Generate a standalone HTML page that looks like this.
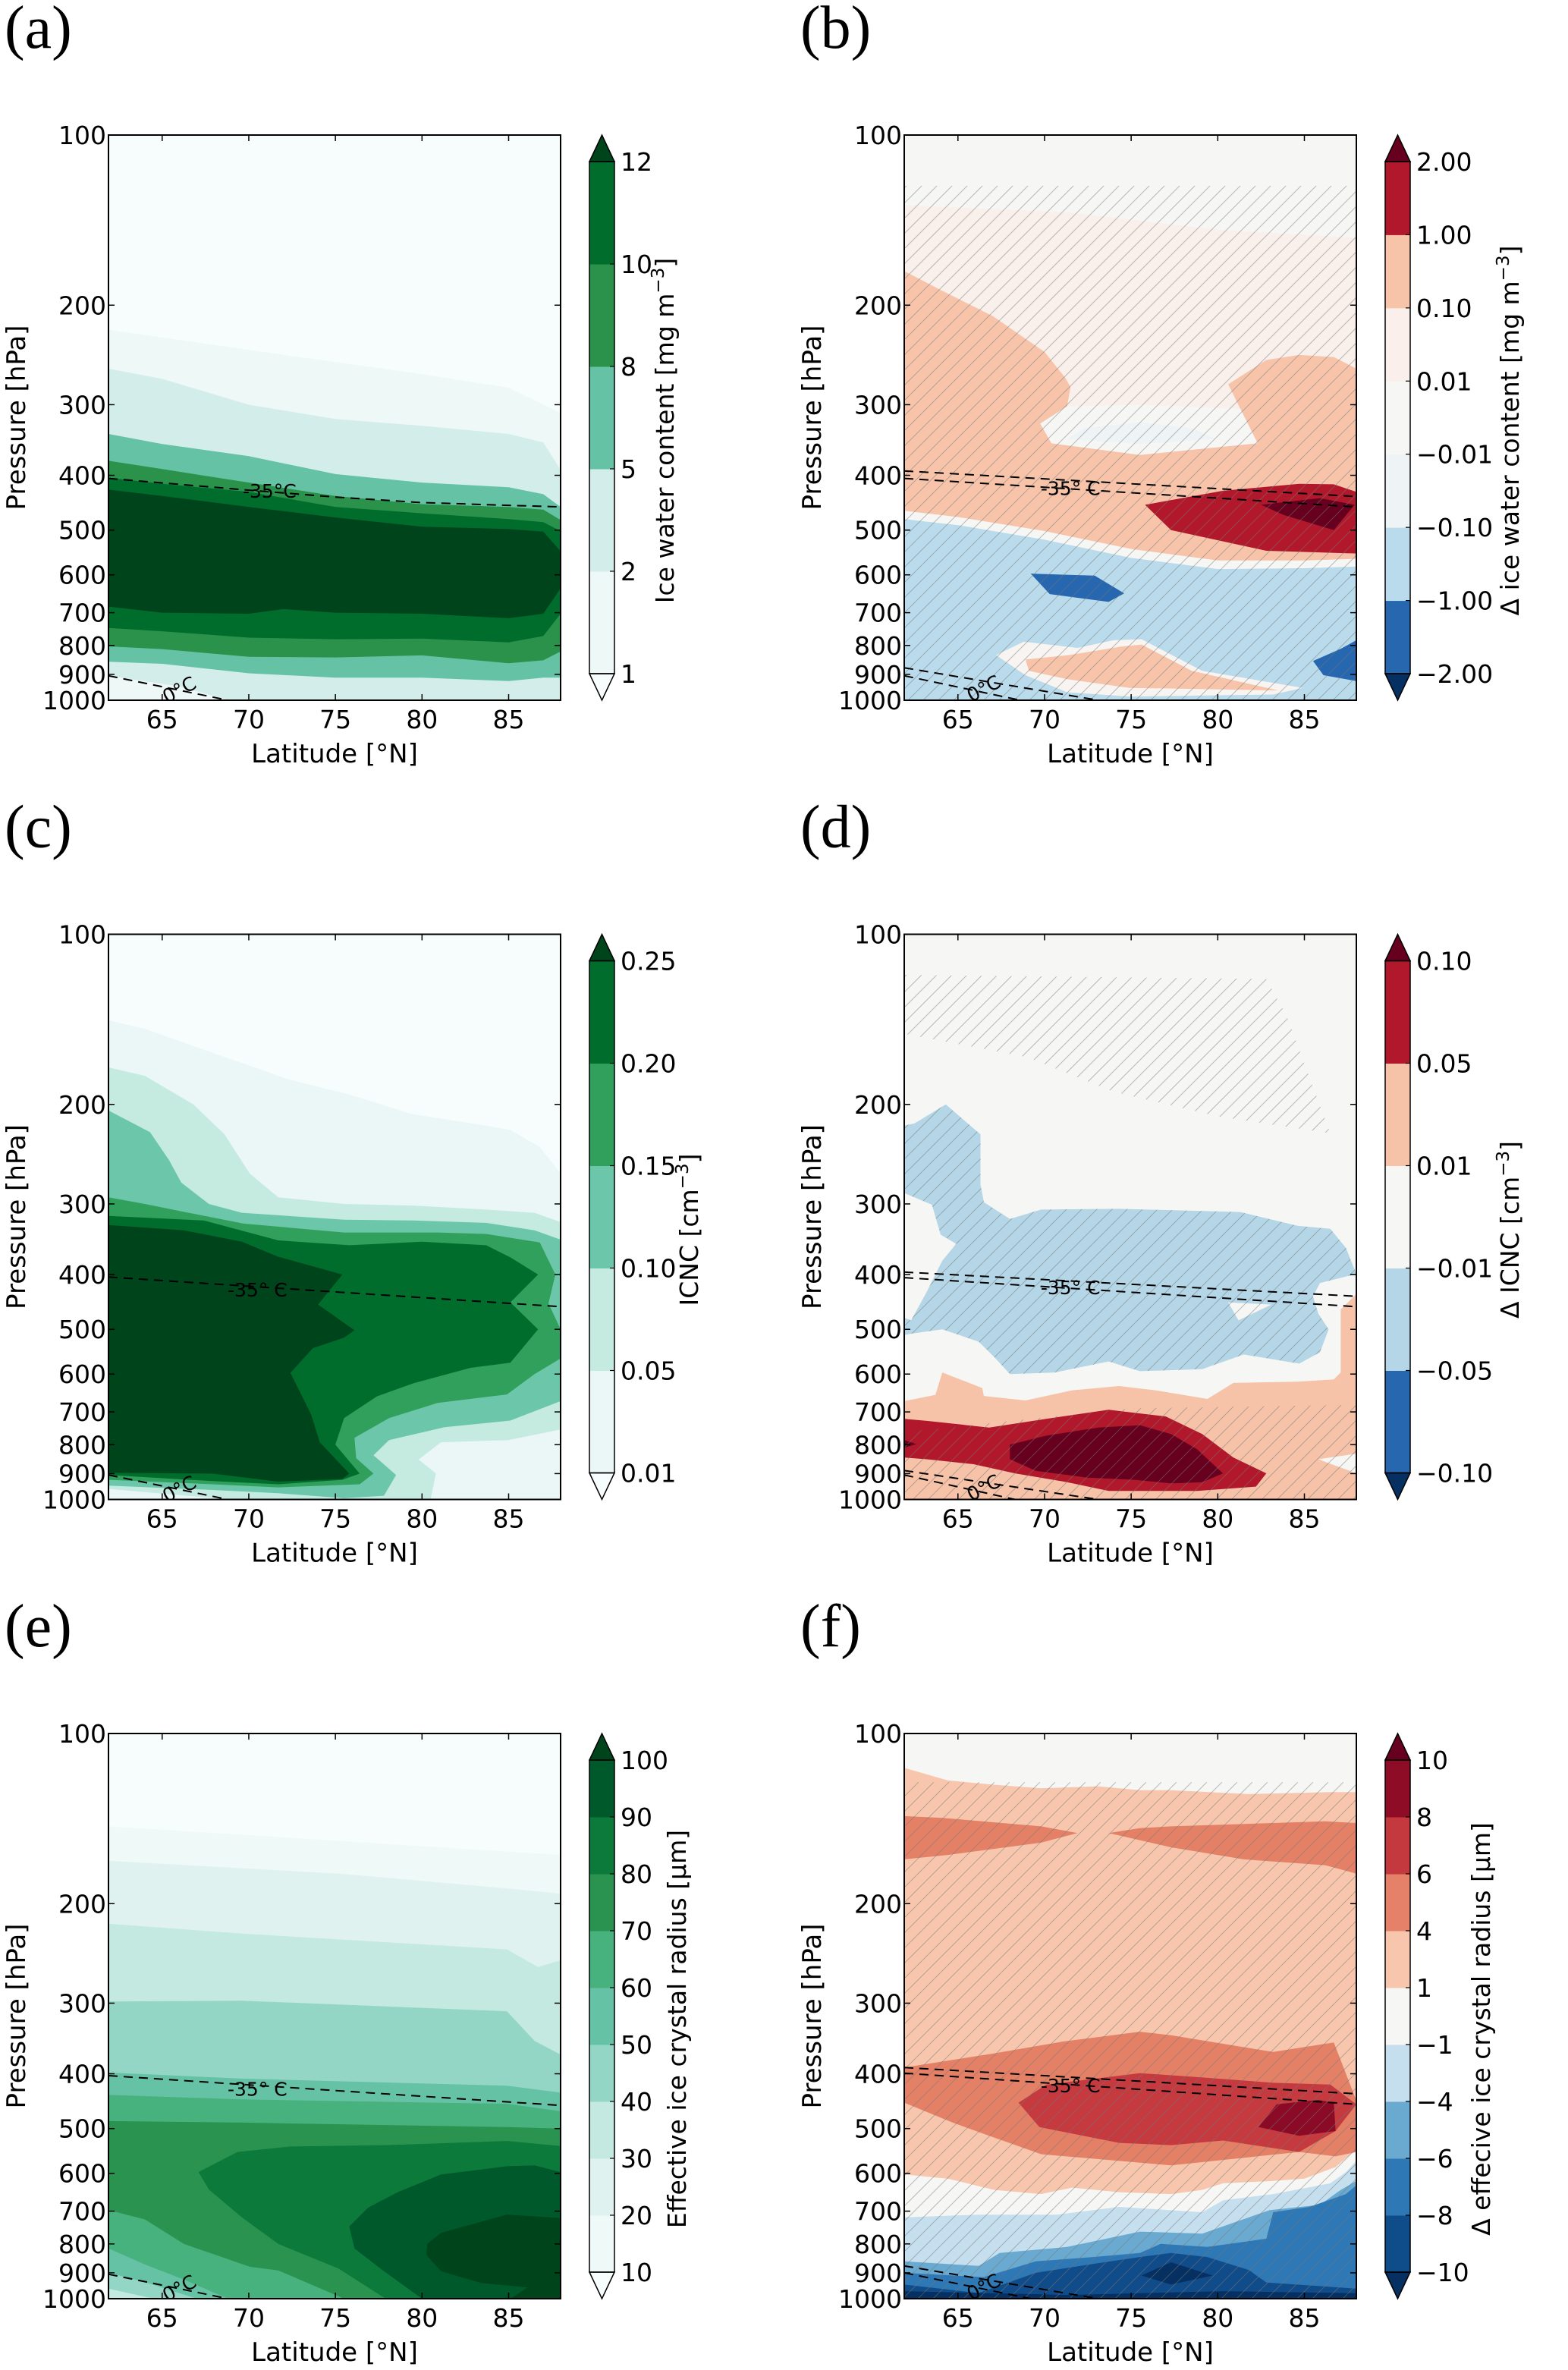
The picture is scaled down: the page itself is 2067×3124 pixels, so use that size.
<!DOCTYPE html>
<html><head><meta charset="utf-8"><style>
html,body{margin:0;padding:0;background:#fff;}
svg{display:block;font-family:"DejaVu Sans","Liberation Sans",sans-serif;}
</style></head><body>
<svg id="fig" xmlns="http://www.w3.org/2000/svg" width="2067" height="3124" viewBox="0 0 2067 3124">
<defs>
<pattern id="hatch" patternUnits="userSpaceOnUse" width="20" height="20"><path d="M0,20 L20,0 M-5,5 L5,-5 M15,25 L25,15" stroke="#777" stroke-width="0.9" stroke-opacity="0.55"/></pattern>
</defs>
</svg>
<script>
// ---------- axis data ----------
const P_TICKS=[100,200,300,400,500,600,700,800,900,1000];
const LAT_TICKS=[65,70,75,80,85];
const LAT_MIN=61.9, LAT_MAX=88;

// ---------- panel a : ice water content ----------
const a_levels=["1","2","5","8","10","12"];
const a_L1=[[61.9,221],[70,240],[80,265],[85,280],[88,310],[88,1000],[61.9,1000]];
const a_L2=[[61.9,259],[65,270],[70,300],[75,318],[80,327],[85,338],[87,350],[88,391],[88,1000],[61.9,1000]];
const a_L5=[[61.9,338],[65,352],[70,370],[75,398],[80,412],[85,420],[87,432],[88,455],[88,912],[87,912],[85,925],[80,912],[75,912],[70,896],[65,862],[61.9,855]];
const a_L8=[[61.9,377],[65,390],[70,412],[75,435],[80,450],[85,455],[87,460],[88,480],[88,820],[87,850],[85,860],[80,833],[75,840],[70,838],[65,812],[61.9,803]];
const a_L10=[[61.9,404],[65,414],[70,428],[75,455],[80,467],[85,478],[87,484],[88,502],[88,703],[87,770],[85,790],[80,778],[75,780],[70,775],[65,755],[61.9,745]];
const a_L12=[[61.9,424],[65,435],[70,455],[75,475],[80,493],[85,498],[87,503],[88,545],[88,634],[87,703],[85,716],[80,703],[75,700],[72,690],[70,703],[65,700],[61.9,683]];
const a_corner=[[61.9,905],[66,945],[68.8,1000],[61.9,1000]];
const a_t35=[[61.9,405],[70,425],[75,437],[80,447],[85,452],[88,455]];
const a_t0=[[61.9,905],[68.8,1000]];

// ---------- panel b : delta IWC ----------
const b_levels=["\u22122.00","\u22121.00","\u22120.10","\u22120.01","0.01","0.10","1.00","2.00"];
const b_pink=[[61.9,133],[71.3,137],[80,147],[88,152],[88,562],[85,566],[80,566],[75,540],[70,502],[65,474],[61.9,462]];
const b_orange=[[61.9,174],[64,188],[67,209],[70,242],[71.2,269],[71.5,279],[71.3,302],[69.75,324],[70.4,351],[75.5,368],[82.3,351],[81.3,305],[80.6,276],[82.8,250],[84.7,245],[86.7,247],[88,259],[88,562],[85,566],[80,566],[75,540],[70,502],[65,474],[61.9,462]];
const b_pocket=[[71.3,302],[75.5,300],[81.3,305],[82.3,351],[75.5,368],[70.4,351],[69.75,324]];
const b_pocketIn=[[72.3,330],[75.5,322],[78.5,330],[79.9,345],[75.5,352],[71.3,345]];
const b_blue=[[61.9,478],[65,490],[70,520],[75,560],[80,586],[85,584],[88,580],[88,1000],[61.9,1000]];
const b_red=[[75.8,451],[77.3,500],[82.8,544],[88,550],[88,428],[86.7,415],[84.7,414],[80.3,426]];
const b_dark=[[82.5,451],[83.8,470],[86.7,500],[87.9,451],[85.9,439]];
const b_dblue1=[[69.2,597],[70.3,649],[73.7,670],[74.6,647],[72.9,602]];
const b_dblue2=[[85.5,852],[86.1,903],[88,925],[88,783],[87.1,811]];
const b_patchW=[[67.2,832],[68.8,788],[71.9,808],[74,783],[75.6,780],[79.1,887],[84.9,951],[83.2,977],[74.9,985],[71.3,968],[68.9,903]];
const b_patchO=[[68.9,847],[71.4,832],[74.4,804],[75.6,797],[78.5,887],[83.5,961],[74.9,951],[71.3,918],[69.1,887]];
const b_hatch=[[61.9,123],[88,123],[88,1000],[61.9,1000]];
const b_t35a=[[61.9,393],[88,436]];
const b_t35b=[[61.9,405],[88,455]];
const b_t0a=[[61.9,876],[73.1,1000]];
const b_t0b=[[61.9,905],[68.6,1000]];

// ---------- panel c : ICNC ----------
const c_levels=["0.01","0.05","0.10","0.15","0.20","0.25"];
const c_L1=[[61.9,142],[64,147],[67.4,160],[72.4,181],[75.8,192],[79.4,208],[83.7,218],[85.1,222],[86.8,238],[88,265],[88,1000],[61.9,1000]];
const c_L5=[[61.9,172],[64,178],[66.8,200],[68.6,226],[70.05,265],[71.7,292],[75.5,300],[79.5,302],[83.7,307],[86.5,311],[88,323],[88,752],[85,785],[81.1,792],[79.8,850],[80.8,899],[80.5,1000],[68.9,1000],[61.9,958]];
const c_L10=[[61.9,205],[64.3,224],[65.4,251],[66.1,275],[67.7,300],[69.6,311],[75.5,320],[79.5,321],[83.7,324],[86.5,334],[88,347],[88,670],[85.1,725],[81.3,745],[78.1,785],[77.2,835],[78.5,905],[77.8,985],[75.5,995],[71.7,975],[67.9,962],[61.9,945]];
const c_L15=[[61.9,292],[64,300],[66.3,310],[69.7,325],[75.5,337],[80.9,337],[83.7,339],[86.8,351],[87.7,400],[87.3,450],[88,500],[88,563],[86.5,600],[84.9,652],[80.9,675],[78.1,718],[76.1,778],[76.2,845],[77.2,900],[76.4,940],[71.7,952],[67.9,940],[61.9,923]];
const c_L20=[[61.9,315],[67.4,321],[71.7,348],[75.8,355],[80,350],[83.7,355],[85.1,373],[86.7,400],[85.1,448],[86.7,500],[85.1,573],[82.8,585],[79.5,623],[77.4,657],[75.5,718],[75,800],[76.4,900],[75.4,923],[71.7,940],[67.9,928],[61.9,905]];
const c_L25=[[61.9,327],[66.25,334],[69.6,350],[71.7,372],[75.4,400],[74,452],[76.1,502],[75.5,517],[73.7,540],[72.4,597],[73.6,708],[74.1,792],[75.8,900],[75.4,920],[71.7,930],[67.9,900],[61.9,897]];
const c_t35=[[61.9,404],[88,456]];
const c_t0=[[61.9,905],[68.8,1000]];

// ---------- panel d : delta ICNC ----------
const d_levels=["\u22120.10","\u22120.05","\u22120.01","0.01","0.05","0.10"];
const d_blue=[[61.9,218],[62.5,216],[64.3,200],[66.3,226],[66.3,277],[66.5,298],[68,319],[69.8,307],[74.3,306],[81.3,310],[84.6,328],[86.5,332],[87.4,359],[88,399],[85.9,414],[85.5,437],[85.8,469],[86.4,500],[85.9,549],[84.7,575],[81.5,554],[79.1,588],[75.5,593],[73.7,570],[70.6,596],[68,600],[67.1,560],[66.2,526],[64.1,500],[62.3,509],[61.9,512],[61.9,477],[62.3,482],[63.2,429],[64.1,378],[64.9,353],[64,340],[63.5,301],[61.9,287]];
const d_hole=[[80.6,448],[83.1,452],[81.2,482]];
const d_orange=[[61.9,670],[63.7,653],[64.1,596],[66.4,635],[66.5,656],[68.9,668],[71.6,641],[74.3,630],[76.4,641],[79.4,664],[80.9,622],[84.6,619],[86.7,613],[87.1,596],[87.1,461],[88,433],[88,1000],[61.9,1000]];
const d_wedge=[[85.8,849],[88,830],[88,899]];
const d_red=[[61.9,720],[63.2,726],[66.8,746],[70.1,720],[73.7,694],[77,713],[79.1,766],[80.9,843],[82.8,899],[82.2,949],[78.8,966],[73.7,966],[71.3,932],[68.3,899],[65.9,866],[63.2,849],[61.9,843]];
const d_dark=[[68,800],[70.1,771],[73.1,746],[75.5,739],[77.3,766],[78.8,815],[80.3,899],[79.1,932],[77.3,937],[75.2,923],[72.5,915],[69.5,890],[68,849]];
const d_darkSmall=[[61.9,785],[62.6,798],[61.9,810]];
const d_hatchTop=[[61.9,118],[82.8,120],[84,140],[86.5,225],[80,210],[74,190],[69,165],[61.9,150]];
const d_hatchBot=[[61.9,760],[75,690],[88,680],[88,1000],[61.9,1000]];
const d_t35a=[[61.9,396],[88,437]];
const d_t35b=[[61.9,405],[88,456]];
const d_t0a=[[61.9,889],[73.1,1000]];
const d_t0b=[[61.9,905],[68.3,1000]];

// ---------- panel e : effective radius ----------
const e_levels=["10","20","30","40","50","60","70","80","90","100"];
const e_L1=[[61.9,146],[88,164],[88,1000],[61.9,1000]];
const e_L2=[[61.9,168],[75.2,177],[84.9,188],[88,192],[88,1000],[61.9,1000]];
const e_L3=[[61.9,217],[69.6,226],[84.9,241],[86.7,259],[88,252],[88,1000],[61.9,1000]];
const e_L4=[[61.9,298],[69.6,297],[84.9,310],[86.5,350],[88,370],[88,1000],[64.5,1000],[61.9,960]];
const e_L5=[[61.9,398],[69.6,408],[84.9,420],[88,432],[88,1000],[67,1000],[64,935],[61.9,900]];
const e_L6=[[61.9,436],[69.6,444],[84.9,452],[88,466],[88,1000],[68.8,1000],[66.25,925],[64,870],[61.9,815]];
const e_L7=[[61.9,485],[69.6,488],[84.9,497],[88,500],[88,1000],[75.5,1000],[71.7,891],[70.05,878],[68.1,837],[66.25,800],[64,724],[61.9,697]];
const e_L8=[[67.1,597],[69.35,550],[72.4,538],[78,535],[84.9,526],[88,537],[88,1000],[77.9,1000],[75.2,885],[71.7,800],[69.6,718],[67.7,641]];
const e_L9=[[75.8,745],[76.9,690],[78.6,648],[81.1,603],[84.9,583],[86.5,581],[88,597],[88,1000],[80,1000],[77.8,894],[76.1,815]];
const e_L10=[[80.3,800],[81.1,765],[84.9,710],[88,720],[88,1000],[85.1,1000],[86.1,955],[83.4,938],[81.1,894],[80.25,837]];
const e_t35=[[61.9,403],[88,455]];
const e_t0=[[61.9,905],[68.8,1000]];

// ---------- panel f : delta effective radius ----------
const f_levels=["\u221210","\u22128","\u22126","\u22124","\u22121","1","4","6","8","10"];
const f_orange=[[61.9,115],[64.4,121],[66.8,123],[69.8,125],[73.1,124],[75.5,126],[77.3,126],[81.8,128],[86.5,127],[88,127],[88,544],[86.8,585],[85,613],[83.2,619],[80.3,625],[79.1,642],[77.3,653],[74.3,648],[71.6,636],[69.8,653],[67.1,642],[64.4,613],[61.9,603]];
const f_up46=[[61.9,140],[64.1,141],[69.8,146],[71.9,150],[73.7,150],[75.5,147],[77.3,146],[86.2,143],[88,144],[88,177],[86.2,171],[81.5,167],[77.3,159],[73.7,150],[71.9,150],[69.8,156],[64.4,164],[61.9,167]];
const f_low46=[[61.9,390],[67.1,368],[71,351],[75.5,337],[77.3,342],[83.2,366],[86.7,352],[88,446],[88,550],[86.8,560],[84.7,550],[77.3,581],[69.8,555],[66.8,515],[64.7,488],[61.9,450]];
const f_68=[[68.5,450],[70.1,418],[75.5,399],[79.1,406],[83.2,415],[86.5,418],[88,453],[86.8,505],[84.7,550],[80.3,525],[77.3,535],[74.3,530],[69.7,497]];
const f_810=[[82.35,497],[83.4,453],[85.8,445],[86.7,450],[86.8,505],[84.7,515]];
const f_b1=[[61.9,718],[66.2,710],[70.7,710],[74.3,688],[79.1,703],[80.3,670],[83.2,653],[86.5,625],[87.4,597],[88,570],[88,1000],[61.9,1000]];
const f_b4=[[61.9,859],[66.2,875],[67.4,830],[71.3,810],[75.5,761],[79.1,767],[83,697],[85.9,682],[87.1,642],[88,619],[88,1000],[61.9,1000]];
const f_b6=[[61.9,900],[66.5,916],[69.5,859],[72.8,844],[75.5,830],[76.7,800],[79.4,810],[82.8,783],[83.2,703],[85.3,688],[87.4,653],[88,630],[88,1000],[61.9,1000]];
const f_b8=[[61.9,944],[66.2,977],[69.5,900],[73,866],[75.5,844],[77.3,830],[79.4,844],[81.8,890],[82.8,936],[88,960],[88,1000],[61.9,1000]];
const f_b10a=[[75.6,910],[77.3,862],[79.7,910],[77.3,944]];
const f_b10b=[[61.9,970],[71.3,985],[80.3,970],[88,978],[88,1000],[61.9,1000]];
const f_hatch=[[61.9,122],[88,122],[88,1000],[61.9,1000]];
const f_t35a=[[61.9,390],[88,434]];
const f_t35b=[[61.9,399],[88,453]];
const f_t0a=[[61.9,875],[73.1,1000]];
const f_t0b=[[61.9,900],[69.2,1000]];

// ---------- colours ----------
const GREENS7=["#f7fcfd","#eef8f7","#d3eeea","#66c2a4","#2a924a","#006d2c","#00441b"];
const C_GREENS7=["#f7fcfd","#eaf7f6","#c5ebe1","#6cc6aa","#31a05c","#006d2c","#00441b"];
const E_GREENS=["#f7fcfd","#eef9f8","#dff2f0","#c3e9e0","#94d6c6","#66c2a4","#47b27d","#2a9350","#0b7a3a","#00592a","#00441b"];

const panels=[
 {id:"a",x0:143,y0:178,bg:GREENS7[0],
  layers:[[a_L1,GREENS7[1]],[a_L2,GREENS7[2]],[a_corner,GREENS7[1]],[a_L5,GREENS7[3]],[a_L8,GREENS7[4]],[a_L10,GREENS7[5]],[a_L12,GREENS7[6]]],
  hatch:[],lines:[a_t35,a_t0],lab35:[71.2,425,"-35\u00b0C"],lab0:[66,960],
  cb:{levels:a_levels,colors:GREENS7.slice(1,6),under:"#f7fcfd",over:"#00441b"},
  cbTitle:["Ice water content [mg m",true],cbTitleX:888},
 {id:"b",x0:1192,y0:178,bg:"#f6f6f5",
  layers:[[b_pink,"#f9efeb"],[b_orange,"#f7c4aa"],[b_pocket,"#f6f6f5"],[b_pocketIn,"#eef3f6"],[b_blue,"#b9dbeb"],[b_red,"#b2182b"],[b_dark,"#67001f"],[b_dblue1,"#2767b0"],[b_dblue2,"#2767b0"],[b_patchW,"#f8f4f2"],[b_patchO,"#f7c4aa"]],
  hatch:[b_hatch],lines:[b_t35a,b_t35b,b_t0a,b_t0b],lab35:[71.5,420,"-35\u00b0 C"],lab0:[66.5,955],
  cb:{levels:b_levels,colors:["#2767b0","#b9dbeb","#eef3f6","#f6f6f5","#faefea","#f7c4aa","#b2182b"],under:"#053061",over:"#67001f"},
  cbTitle:["\u0394 ice water content [mg m",true],cbTitleX:2002},
 {id:"c",x0:143,y0:1231.5,bg:C_GREENS7[0],
  layers:[[c_L1,C_GREENS7[1]],[c_L5,C_GREENS7[2]],[c_L10,C_GREENS7[3]],[c_L15,C_GREENS7[4]],[c_L20,C_GREENS7[5]],[c_L25,C_GREENS7[6]]],
  hatch:[],lines:[c_t35,c_t0],lab35:[70.5,424,"-35\u00b0 C"],lab0:[66,960],
  cb:{levels:c_levels,colors:C_GREENS7.slice(1,6),under:"#f7fcfd",over:"#00441b"},
  cbTitle:["ICNC [cm",true],cbTitleX:920},
 {id:"d",x0:1192,y0:1231.5,bg:"#f6f6f5",
  layers:[[d_blue,"#b4d6e7"],[d_hole,"#f6f6f5"],[d_orange,"#f6c3a8"],[d_wedge,"#f6f6f5"],[d_red,"#b2182b"],[d_dark,"#67001f"],[d_darkSmall,"#67001f"]],
  hatch:[d_hatchTop,d_blue,d_hatchBot],lines:[d_t35a,d_t35b,d_t0a,d_t0b],lab35:[71.5,420,"-35\u00b0 C"],lab0:[66.5,955],
  cb:{levels:d_levels,colors:["#2767b0","#b4d6e7","#f6f6f5","#f6c3a8","#b2182b"],under:"#053061",over:"#67001f"},
  cbTitle:["\u0394 ICNC [cm",true],cbTitleX:2002},
 {id:"e",x0:143,y0:2285,bg:E_GREENS[0],
  layers:[[e_L1,E_GREENS[1]],[e_L2,E_GREENS[2]],[e_L3,E_GREENS[3]],[e_L4,E_GREENS[4]],[e_L5,E_GREENS[5]],[e_L6,E_GREENS[6]],[e_L7,E_GREENS[7]],[e_L8,E_GREENS[8]],[e_L9,E_GREENS[9]],[e_L10,E_GREENS[10]]],
  hatch:[],lines:[e_t35,e_t0],lab35:[70.5,424,"-35\u00b0 C"],lab0:[66,960],
  cb:{levels:e_levels,colors:E_GREENS.slice(1,10),under:"#f7fcfd",over:"#00441b"},
  cbTitle:["Effective ice crystal radius [\u03bcm]",false],cbTitleX:904},
 {id:"f",x0:1192,y0:2285,bg:"#f6f6f5",
  layers:[[f_orange,"#f8c6ac"],[f_up46,"#e48066"],[f_low46,"#e48066"],[f_68,"#c53a3f"],[f_810,"#8b0a26"],[f_b1,"#c5dfee"],[f_b4,"#6aa9d0"],[f_b6,"#2d78b5"],[f_b8,"#114c8a"],[f_b10a,"#053061"],[f_b10b,"#053061"]],
  hatch:[f_hatch],lines:[f_t35a,f_t35b,f_t0a,f_t0b],lab35:[71.5,418,"-35\u00b0 C"],lab0:[66.5,955],
  cb:{levels:f_levels,colors:["#0f4c8a","#2d78b5","#6aa9d0","#c5dfee","#f6f6f5","#f8c6ac","#e58168","#c3393e","#8e0c26"],under:"#053061",over:"#67001f"},
  cbTitle:["\u0394 effecive ice crystal radius [\u03bcm]",false],cbTitleX:1964}
];

const NS="http://www.w3.org/2000/svg";
const svg=document.getElementById("fig");
const defs=svg.querySelector("defs");
const PW=596, PH=745;
function el(tag,parent,attrs){const e=document.createElementNS(NS,tag);for(const k in attrs)e.setAttribute(k,attrs[k]);parent.appendChild(e);return e;}
function xs(P,lat){return P.x0+(lat-LAT_MIN)/(LAT_MAX-LAT_MIN)*PW;}
function ys(P,p){return P.y0+Math.log10(p/100)*PH;}
function pts(P,arr){return arr.map(d=>xs(P,d[0]).toFixed(1)+","+ys(P,d[1]).toFixed(1)).join(" ");}

panels.forEach(P=>{
  const g=el("g",svg,{});
  
  
  const cp=el("clipPath",defs,{id:"clip-"+P.id});
  el("rect",cp,{x:P.x0,y:P.y0,width:PW,height:PH});
  const plot=el("g",g,{"clip-path":"url(#clip-"+P.id+")"});
  
  
  const bg=el("rect",plot,{x:P.x0,y:P.y0,width:PW,height:PH,fill:P.bg});
  
  
  P.layers.forEach((L,i)=>{
    const poly=el("polygon",plot,{points:pts(P,L[0]),fill:L[1]});
    
    
  });
  P.hatch.forEach((H,i)=>{
    const h=el("polygon",plot,{points:pts(P,H),fill:"url(#hatch)"});
    
    
  });
  P.lines.forEach((Ln,i)=>{
    const l=el("polyline",plot,{points:pts(P,Ln),fill:"none",stroke:"#000","stroke-width":2,"stroke-dasharray":"12,8"});
    
    
  });
  const t35=el("text",plot,{x:xs(P,P.lab35[0]),y:ys(P,P.lab35[1])+10,"font-size":25,"text-anchor":"middle",fill:"#000"});
  t35.textContent=P.lab35[2];
  
  
  const t0=el("text",plot,{x:xs(P,P.lab0[0]),y:ys(P,P.lab0[1])+8,"font-size":25,"text-anchor":"middle",fill:"#000",transform:"rotate(-28 "+xs(P,P.lab0[0])+" "+ys(P,P.lab0[1])+")"});
  t0.textContent="0\u00b0C";
  
  
  const fr=el("rect",g,{x:P.x0,y:P.y0,width:PW,height:PH,fill:"none",stroke:"#000","stroke-width":2});
  
  
  P_TICKS.forEach(p=>{
    const y=ys(P,p);
    el("line",g,{x1:P.x0,x2:P.x0+8,y1:y,y2:y,stroke:"#000","stroke-width":1.5});
    el("line",g,{x1:P.x0+PW-8,x2:P.x0+PW,y1:y,y2:y,stroke:"#000","stroke-width":1.5});
    const t=el("text",g,{x:P.x0-3,y:y+12,"font-size":33,"text-anchor":"end",fill:"#000"});
    t.textContent=String(p);
    
    
  });
  LAT_TICKS.forEach(v=>{
    const x=xs(P,v);
    el("line",g,{x1:x,x2:x,y1:P.y0+PH,y2:P.y0+PH-8,stroke:"#000","stroke-width":1.5});
    el("line",g,{x1:x,x2:x,y1:P.y0,y2:P.y0+8,stroke:"#000","stroke-width":1.5});
    const t=el("text",g,{x:x,y:P.y0+PH+37,"font-size":33,"text-anchor":"middle",fill:"#000"});
    t.textContent=String(v);
    
    
  });
  const xl=el("text",g,{x:P.x0+PW/2,y:P.y0+PH+82,"font-size":34,"text-anchor":"middle",fill:"#000"});
  xl.textContent="Latitude [\u00b0N]";
  
  
  const yx=P.x0-110, yy=P.y0+PH/2;
  const yl=el("text",g,{x:yx,y:yy,"font-size":34,"text-anchor":"middle",fill:"#000",transform:"rotate(-90 "+yx+" "+yy+")"});
  yl.textContent="Pressure [hPa]";
  
  
  const pl=el("text",g,{x:P.x0-137,y:P.y0-115,"font-size":80,fill:"#000","font-family":"'Liberation Serif','DejaVu Serif',serif"});
  pl.textContent="("+P.id+")";
  
  
  const cb=el("g",g,{});
  
  
  const cx=P.x0+634, cw=33, tri=35, top=P.y0+tri, bot=P.y0+PH-tri;
  const n=P.cb.colors.length, sh=(bot-top)/n;
  P.cb.colors.forEach((c,i)=>{
    const r=el("rect",cb,{x:cx,y:bot-(i+1)*sh,width:cw,height:sh+0.5,fill:c});
    
    
  });
  const up=el("polygon",cb,{points:cx+","+top+" "+(cx+cw/2)+","+P.y0+" "+(cx+cw)+","+top,fill:P.cb.over,stroke:"#000","stroke-width":1.5});
  
  
  const dn=el("polygon",cb,{points:cx+","+bot+" "+(cx+cw/2)+","+(P.y0+PH)+" "+(cx+cw)+","+bot,fill:P.cb.under,stroke:"#000","stroke-width":1.5});
  
  
  el("rect",cb,{x:cx,y:top,width:cw,height:bot-top,fill:"none",stroke:"#000","stroke-width":1.5});
  P.cb.levels.forEach((lv,i)=>{
    const y=bot-i*sh;
    el("line",cb,{x1:cx+cw-6,x2:cx+cw,y1:y,y2:y,stroke:"#000","stroke-width":1.2});
    const t=el("text",cb,{x:cx+cw+8,y:y+12,"font-size":33,fill:"#000"});
    t.textContent=lv;
    
    
  });
  const tx=P.cbTitleX, ty=P.y0+PH/2+5;
  const ct=el("text",cb,{x:tx,y:ty+12,"font-size":33,"text-anchor":"middle",fill:"#000",transform:"rotate(-90 "+tx+" "+(ty+12)+")"});
  ct.textContent=P.cbTitle[0];
  if(P.cbTitle[1]){
    const s=el("tspan",ct,{"baseline-shift":"super","font-size":23});
    s.textContent="\u22123";
    const s2=el("tspan",ct,{});
    s2.textContent="]";
  }
  
  
});
</script>
</body></html>
